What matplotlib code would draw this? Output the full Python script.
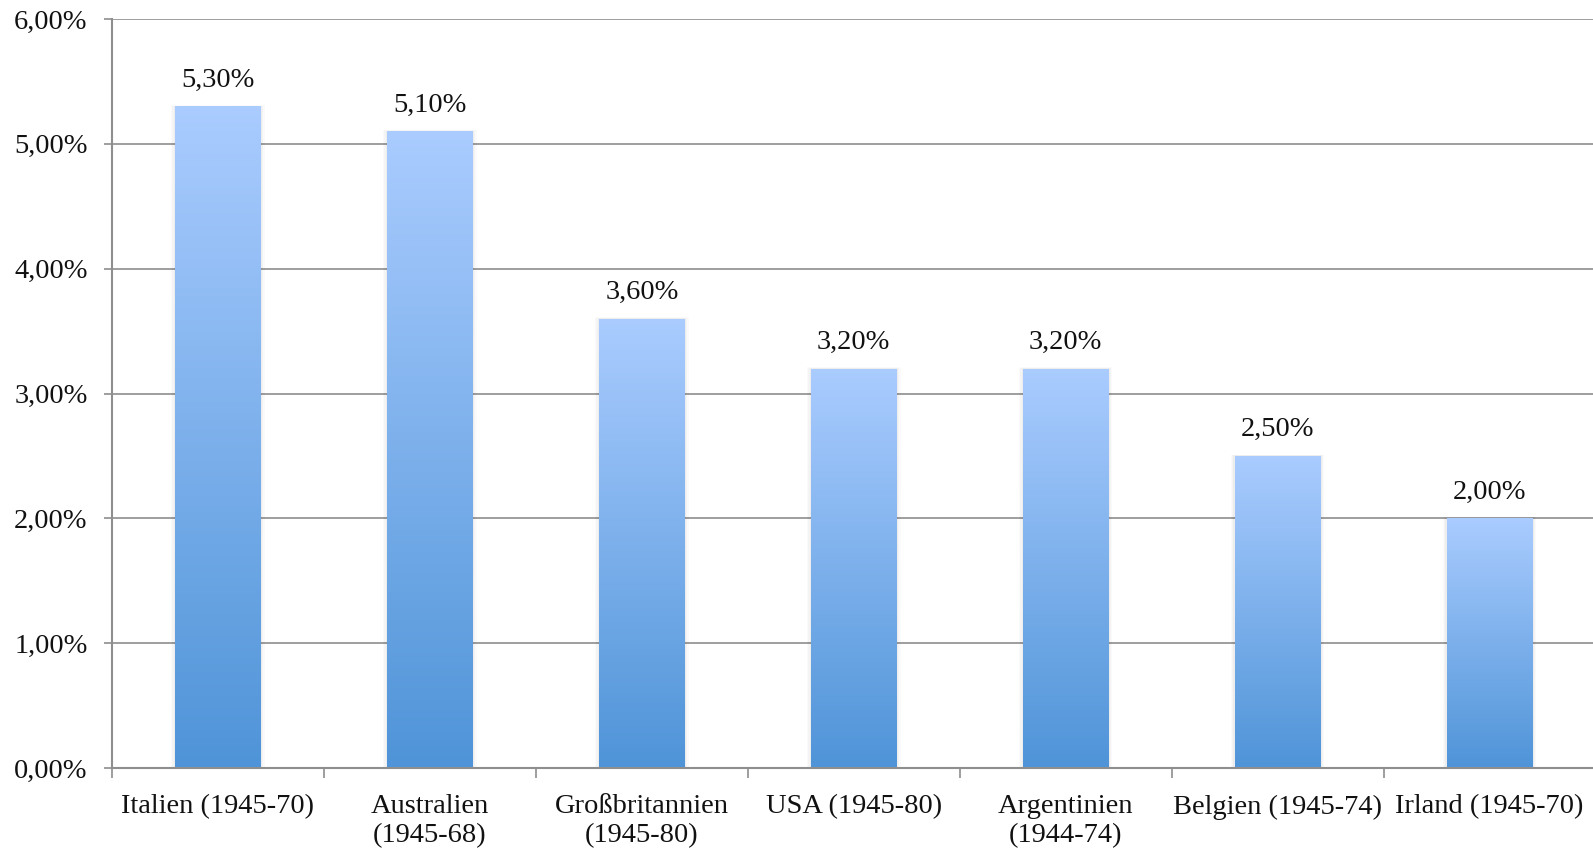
import numpy as np
import matplotlib
matplotlib.use("Agg")
import matplotlib.pyplot as plt
from matplotlib.colors import LinearSegmentedColormap
from matplotlib.ticker import FuncFormatter

# Average annual growth rates by country and period
countries = [
    "Italien (1945-70)",
    "Australien\n(1945-68)",
    "Großbritannien\n(1945-80)",
    "USA (1945-80)",
    "Argentinien\n(1944-74)",
    "Belgien (1945-74)",
    "Irland (1945-70)",
]
rates = [5.30, 5.10, 3.60, 3.20, 3.20, 2.50, 2.00]
y_ticks = [0, 1, 2, 3, 4, 5, 6]

plt.rcParams["font.family"] = ["Liberation Serif", "DejaVu Serif"]
plt.rcParams["font.size"] = 20.5

fig = plt.figure(figsize=(15.93, 8.5), dpi=100)
ax = fig.add_axes([0.0703, 0.0965, 0.9313, 0.8811])

grid_col = "#8e8e8e"
x = np.arange(len(countries))
bars = ax.bar(x, rates, width=0.405, color="none", edgecolor="none", zorder=3)

# vertical gradient fill, light at the top and darker towards the base
cmap = LinearSegmentedColormap.from_list("barfade", ["#4f94d8", "#aaccff"])
grad = np.linspace(0, 1, 256).reshape(-1, 1)
for b in bars:
    x0, y0 = b.get_x(), b.get_y()
    w, h = b.get_width(), b.get_height()
    # faint soft shadow around the bar
    for k, a in zip([0.036, 0.024, 0.012], [0.018, 0.022, 0.028]):
        ax.add_patch(plt.Rectangle((x0 - k * 0.5, y0), w + k, h + k * 0.3,
                                   facecolor="black", alpha=a, edgecolor="none",
                                   zorder=2))
    im = ax.imshow(grad, extent=(x0, x0 + w, y0, y0 + h), origin="lower",
                   cmap=cmap, aspect="auto", zorder=3, interpolation="bilinear")
    im.set_clip_path(b)

# value labels above each bar
for xi, v in zip(x, rates):
    ax.annotate(f"{v:.2f}%".replace(".", ","), (xi, v), xytext=(0, 10),
                textcoords="offset points", ha="center", va="bottom",
                fontsize=20.5, color="#111111", zorder=5)

ax.set_xlim(-0.5, len(countries) - 0.5)
ax.set_ylim(0, 6)
ax.set_yticks(y_ticks)
ax.yaxis.set_major_formatter(FuncFormatter(lambda v, p: f"{v:.2f}%".replace(".", ",")))
ax.set_xticks(x)
ax.set_xticklabels(countries, linespacing=1.2)
ax.set_xticks(np.arange(len(countries) + 1) - 0.5, minor=True)

ax.grid(axis="y", color=grid_col, linewidth=1.2, zorder=1)
ax.set_axisbelow(True)
for side in ["top", "right"]:
    ax.spines[side].set_visible(False)
for side in ["left", "bottom"]:
    ax.spines[side].set_color(grid_col)
    ax.spines[side].set_linewidth(1.5)
    ax.spines[side].set_zorder(4)

ax.tick_params(axis="y", length=6, width=1.2, color=grid_col, pad=11.5,
               labelsize=20.5, labelcolor="#111111")
ax.tick_params(axis="x", which="major", length=0, pad=19,
               labelsize=20.5, labelcolor="#111111")
ax.tick_params(axis="x", which="minor", length=7, width=1.2, color=grid_col)

fig.savefig("out.png", dpi=100)
